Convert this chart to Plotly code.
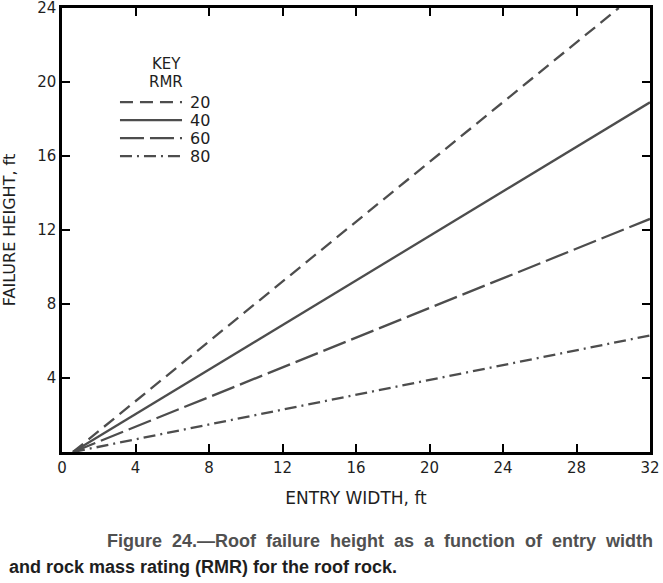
import plotly.graph_objects as go

# Data
rmr_labels = ["20", "40", "60", "80"]
width_start = [0.6, 0.6, 0.6, 0.6]
width_end = [30.3, 32.0, 32.0, 32.0]
height_start = [0.0, 0.0, 0.0, 0.0]
height_end = [24.0, 18.9, 12.6, 6.3]
x_ticks = [0, 4, 8, 12, 16, 20, 24, 28, 32]
y_ticks = [4, 8, 12, 16, 20, 24]

dashes = ["13px,7px", "solid", "24px,6px", "12px,5px,2px,5px"]
line_color = "#4d4d4d"
text_color = "#1e1e1e"
lab_font = "DejaVu Sans, Verdana, sans-serif"
cap_font = "Liberation Sans, Arial, sans-serif"

fig = go.Figure()
for lab, x0, x1, y0, y1, d in zip(rmr_labels, width_start, width_end,
                                   height_start, height_end, dashes):
    fig.add_trace(go.Scatter(
        x=[x0, x1], y=[y0, y1], mode="lines", name=lab, showlegend=False,
        line=dict(color=line_color, width=2.3, dash=d),
    ))

fig.update_layout(
    width=663, height=583,
    margin=dict(l=62, r=13, t=8, b=131, autoexpand=False),
    paper_bgcolor="white", plot_bgcolor="white",
    font=dict(family=lab_font, size=15, color=text_color),
    showlegend=False,
    xaxis=dict(
        range=[0, 32], tickvals=x_ticks, ticktext=[str(v) for v in x_ticks],
        ticks="inside", ticklen=8, tickwidth=1.5, tickcolor="black",
        showline=True, linecolor="black", linewidth=2.5, mirror="ticks",
        showgrid=False, zeroline=False, ticklabeloverflow="allow",
        tickfont=dict(size=15, color=text_color),
        title=dict(text="ENTRY WIDTH, ft", font=dict(size=17, color=text_color), standoff=17),
    ),
    yaxis=dict(
        range=[0, 24], tickvals=y_ticks, ticktext=[str(v) for v in y_ticks],
        ticks="inside", ticklen=8, tickwidth=1.5, tickcolor="black",
        showline=True, linecolor="black", linewidth=2.5, mirror="ticks",
        showgrid=False, zeroline=False, ticklabeloverflow="allow",
        tickfont=dict(size=15, color=text_color),
        title=dict(text="FAILURE HEIGHT, ft", font=dict(size=16, color=text_color), standoff=19),
    ),
)

# Hand-drawn style key ("KEY / RMR") placed in the upper-left of the plot
key_x0, key_x1, key_lab_x = 0.0986, 0.2041, 0.214
key_top, key_step = 0.788, 0.0405
fig.add_annotation(xref="paper", yref="paper", x=0.177, y=0.874, text="KEY",
                   showarrow=False, xanchor="center", yanchor="middle",
                   font=dict(size=15, color=text_color, family=lab_font))
fig.add_annotation(xref="paper", yref="paper", x=0.177, y=0.833, text="RMR",
                   showarrow=False, xanchor="center", yanchor="middle",
                   font=dict(size=15, color=text_color, family=lab_font))
for i, (lab, d) in enumerate(zip(rmr_labels, dashes)):
    yy = key_top - i * key_step
    fig.add_shape(type="line", xref="paper", yref="paper",
                  x0=key_x0, x1=key_x1, y0=yy, y1=yy,
                  line=dict(color=line_color, width=2.3, dash=d))
    fig.add_annotation(xref="paper", yref="paper", x=key_lab_x, y=yy, text=lab,
                       showarrow=False, xanchor="left", yanchor="middle",
                       font=dict(size=16, color=text_color, family=lab_font))

# Caption (first line is justified in the original, so the word gaps are widened)
cap1_words = "Figure 24.—Roof failure height as a function of entry width".split(" ")
cap1 = " &nbsp;".join(cap1_words)
cap2 = "and rock mass rating (RMR) for the roof rock."
fig.add_annotation(
    xref="paper", yref="paper", x=1.0085, y=-0.2005, xanchor="right", yanchor="middle",
    text="<b>" + cap1 + "</b>",
    showarrow=False, font=dict(size=18, color="#505050", family=cap_font),
)
fig.add_annotation(
    xref="paper", yref="paper", x=-0.0935, y=-0.259, xanchor="left", yanchor="middle",
    text="<b>" + cap2 + "</b>",
    showarrow=False, font=dict(size=18, color="#1e1e1e", family=cap_font),
)

fig.write_html("out.html")
